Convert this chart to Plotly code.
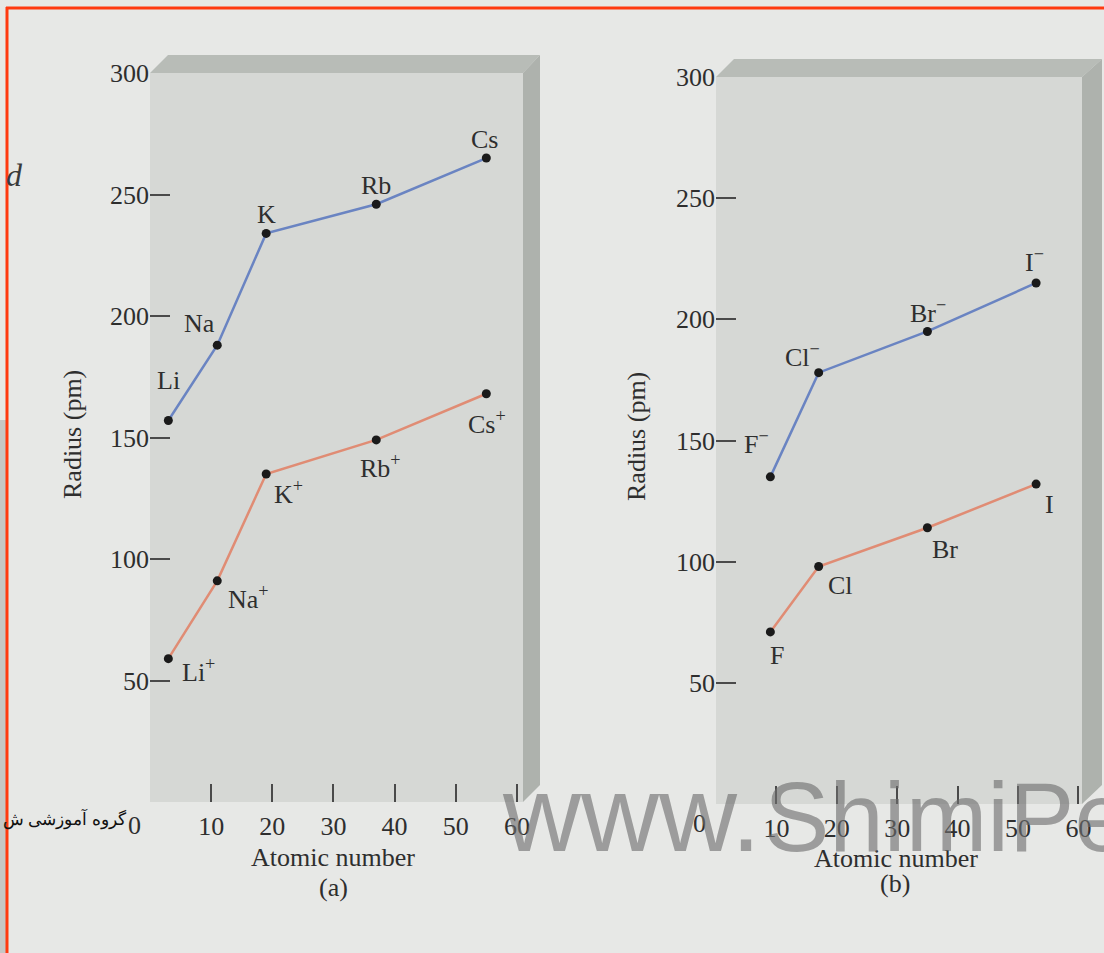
import plotly.graph_objects as go

# ---------------- data ----------------
alkali_labels = ["Li", "Na", "K", "Rb", "Cs"]
cation_labels = ["Li<sup>+</sup>", "Na<sup>+</sup>", "K<sup>+</sup>", "Rb<sup>+</sup>", "Cs<sup>+</sup>"]
alkali_z = [3, 11, 19, 37, 55]
atom_radius_a = [157, 188, 234, 246, 265]
cation_radius = [59, 91, 135, 149, 168]

halogen_labels = ["F", "Cl", "Br", "I"]
anion_labels = ["F<sup>−</sup>", "Cl<sup>−</sup>", "Br<sup>−</sup>", "I<sup>−</sup>"]
halogen_z = [9, 17, 35, 53]
anion_radius = [135, 178, 195, 215]
atom_radius_b = [71, 98, 114, 132]

y_ticks = [50, 100, 150, 200, 250, 300]
x_ticks = [10, 20, 30, 40, 50, 60]

# ---------------- geometry / style ----------------
W, H = 1104, 953
def px(x):
    return x / W
def py(y):
    return 1 - y / H

SERIF = "Liberation Serif"
TXT = "#2e2e2e"
PAGE = "#e7e8e6"
FACE = "#d6d8d5"
BEVEL = "#b8bcb7"
BLUE = "#6a84c2"
SALMON = "#e08c74"

fig = go.Figure()

def add_series(xs, ys, color, xa, ya):
    fig.add_trace(go.Scatter(
        x=xs, y=ys, mode="lines+markers", xaxis=xa, yaxis=ya,
        line=dict(color=color, width=2.5),
        marker=dict(color="#1a1a1a", size=9),
        showlegend=False, hoverinfo="skip"))

add_series(alkali_z, atom_radius_a, BLUE, "x", "y")
add_series(alkali_z, cation_radius, SALMON, "x", "y")
add_series(halogen_z, anion_radius, BLUE, "x2", "y2")
add_series(halogen_z, atom_radius_b, SALMON, "x2", "y2")

annotations = []

def point_labels(texts, xs, ys, offsets, xr, yr):
    for t, xv, yv, (dx, dy) in zip(texts, xs, ys, offsets):
        annotations.append(dict(
            x=xv, y=yv, xref=xr, yref=yr, text=t, showarrow=False,
            xanchor="center", yanchor="middle",
            xshift=dx, yshift=-dy, font=dict(family=SERIF, size=26, color=TXT)))

point_labels(alkali_labels, alkali_z, atom_radius_a,
             [(0, -40), (-18, -22), (0, -19), (0, -19), (-2, -19)], "x", "y")
point_labels(cation_labels, alkali_z, cation_radius,
             [(30, 12), (31, 17), (22, 19), (4, 27), (1, 29)], "x", "y")
point_labels(anion_labels, halogen_z, anion_radius,
             [(-14, -34), (-16, -17), (1, -20), (-2, -22)], "x2", "y2")
point_labels(halogen_labels, halogen_z, atom_radius_b,
             [(7, 24), (22, 19), (18, 22), (13, 20)], "x2", "y2")

def paper_text(x, y, text, size=26, angle=0, **kw):
    d = dict(x=px(x), y=py(y), xref="paper", yref="paper", text=text,
             showarrow=False, textangle=angle, xanchor="center", yanchor="middle",
             font=dict(family=kw.pop("family", SERIF), size=size, color=kw.pop("color", TXT)))
    d.update(kw)
    annotations.append(d)

# zero labels (no tick mark at 0)
paper_text(134, 825, "0")
paper_text(699, 823, "0")
# axis titles and panel captions
paper_text(72, 435, "Radius (pm)", angle=-90)
paper_text(637, 437, "Radius (pm)", angle=-90)
paper_text(333, 857, "Atomic number")
paper_text(896, 858, "Atomic number")
paper_text(333, 887, "(a)")
paper_text(895, 883, "(b)")
# scan artefacts
paper_text(14, 175, "<i>d</i>", size=32, color="#3a3a3a")
paper_text(129, 818, "گروه آموزشی ش", size=16.5, family="Noto Sans", color="#111111",
           xanchor="right")
# watermark
paper_text(500, 876, "www.", size=108, family="Liberation Sans",
           color="rgba(110,110,110,0.62)", xanchor="left", yanchor="bottom")
paper_text(762, 874, "ShimiPedia", size=98, family="Liberation Sans",
           color="rgba(110,110,110,0.62)", xanchor="left", yanchor="bottom")

shapes = []
def poly(pts, color):
    path = "M " + " L ".join(f"{px(a):.5f},{py(b):.5f}" for a, b in pts) + " Z"
    shapes.append(dict(type="path", xref="paper", yref="paper", path=path,
                       fillcolor=color, line=dict(width=0), layer="below"))

# bevels of panel (a)
poly([(150, 73), (168, 55), (540, 55), (523, 73)], BEVEL)
poly([(523, 73), (540, 55), (540, 785), (523, 802)], "#aeb2ad")
# bevels of panel (b)
poly([(716, 77), (734, 59), (1102, 59), (1082, 77)], BEVEL)
poly([(1082, 77), (1102, 59), (1102, 785), (1082, 804)], "#aeb2ad")
# left gray strip of scan
shapes.append(dict(type="rect", xref="paper", yref="paper", x0=0, x1=px(6),
                   y0=py(953), y1=py(420), fillcolor="#c6c7c5", line=dict(width=0)))
# red frame
shapes.append(dict(type="line", xref="paper", yref="paper", x0=px(6), x1=1,
                   y0=py(8), y1=py(8), line=dict(color="#ff3a10", width=3)))
shapes.append(dict(type="line", xref="paper", yref="paper", x0=px(7), x1=px(7),
                   y0=py(7), y1=0, line=dict(color="#ff3a10", width=3)))

def xaxis(domain, rng):
    return dict(domain=domain, range=rng, tickvals=x_ticks, ticks="inside",
                ticklen=18, tickwidth=2, tickcolor="#4a4a4a", showgrid=False,
                zeroline=False, showline=False, ticklabelstandoff=6,
                tickfont=dict(family=SERIF, size=26, color=TXT), fixedrange=True)

def yaxis(domain, anchor):
    return dict(domain=domain, range=[0, 300], tickvals=y_ticks, ticks="inside",
                ticklen=20, tickwidth=2, tickcolor="#4a4a4a", showgrid=False,
                zeroline=False, showline=False, anchor=anchor,
                tickfont=dict(family=SERIF, size=26, color=TXT), fixedrange=True)

fig.update_layout(
    width=W, height=H,
    margin=dict(l=0, r=0, t=0, b=0, autoexpand=False),
    paper_bgcolor=PAGE, plot_bgcolor=FACE,
    xaxis=dict(xaxis([px(150), px(523)], [0, 61]), anchor="y"),
    yaxis=yaxis([py(802), py(73)], "x"),
    xaxis2=dict(xaxis([px(716), px(1082)], [0, 60.6]), anchor="y2"),
    yaxis2=yaxis([py(804), py(77)], "x2"),
    annotations=annotations, shapes=shapes,
    showlegend=False,
)

fig.write_html(
    "out.html",
    config={"displayModeBar": False},
    post_script=(
        "document.documentElement.style.margin='0';"
        "document.body.style.margin='0';document.body.style.padding='0';"
        "document.documentElement.style.overflow='hidden';"
        "document.body.style.overflow='hidden';"
        "var gd=document.getElementById('{plot_id}');"
        "gd.style.position='fixed';gd.style.top='0px';gd.style.left='0px';"
    ),
)
